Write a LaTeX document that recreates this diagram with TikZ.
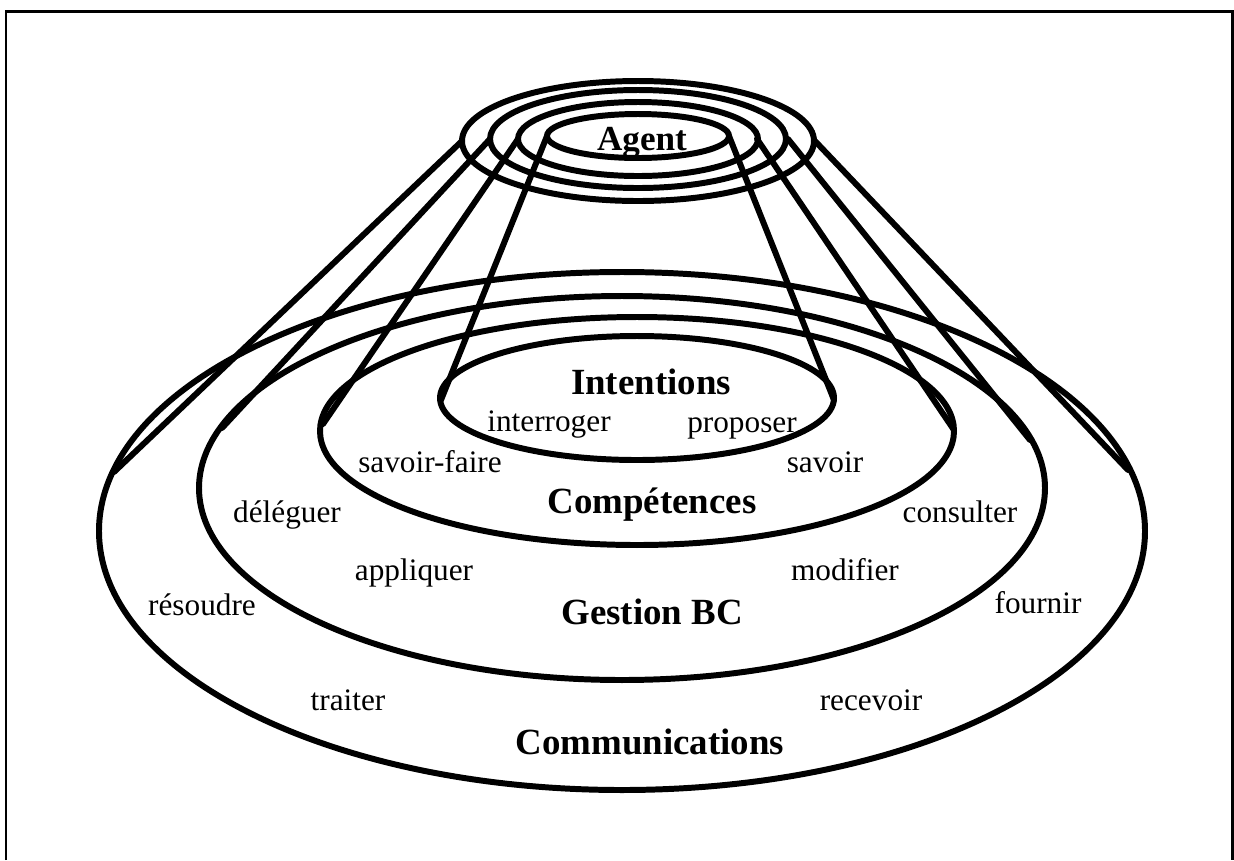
\documentclass[tikz,border=0pt]{standalone}
\usepackage{fontspec}
\setmainfont{Liberation Serif}

\begin{document}
\begin{tikzpicture}[x=0.02cm,y=-0.02cm]
            \useasboundingbox (0,0) rectangle (1234,860);
            \draw [line width=1.7pt] (6,860) -- (6,11) -- (1232,11) -- (1232,860);

            \begin{scope}[line width=3.4pt]
                % rings of the agent
                \draw (638,141) ellipse [x radius=176, y radius=60];
                \draw (638,139) ellipse [x radius=148, y radius=49];
                \draw (638,139) ellipse [x radius=120, y radius=37];
                \draw (638,136) ellipse [x radius=91, y radius=22];
                % layers
                \draw (622,531) ellipse [x radius=523, y radius=259];
                \draw (622,488) ellipse [x radius=423, y radius=192];
                \draw (637,431) ellipse [x radius=317, y radius=114];
                \draw (637,398) ellipse [x radius=197, y radius=62];
            \end{scope}

            \coordinate (commTopL) at (462,141);
            \coordinate (commTopR) at (815,141);
            \coordinate (commBotL) at (114,472);
            \coordinate (commBotR) at (1128,470);
            \coordinate (gestTopL) at (490,139);
            \coordinate (gestTopR) at (788,139);
            \coordinate (gestBotL) at (222,428);
            \coordinate (gestBotR) at (1030,440);
            \coordinate (compTopL) at (518,139);
            \coordinate (compTopR) at (757,139);
            \coordinate (compBotL) at (323,424);
            \coordinate (compBotR) at (954,430);
            \coordinate (intTopL) at (547,136);
            \coordinate (intTopR) at (729,136);
            \coordinate (intBotL) at (441,400);
            \coordinate (intBotR) at (834,400);

            \begin{scope}[every edge/.style={draw=black,line width=3.4pt,line cap=round}]
                \path [-] (commTopL) edge (commBotL);
                \path [-] (commTopR) edge (commBotR);
                \path [-] (gestTopL) edge (gestBotL);
                \path [-] (gestTopR) edge (gestBotR);
                \path [-] (compTopL) edge (compBotL);
                \path [-] (compTopR) edge (compBotR);
                \path [-] (intTopL) edge (intBotL);
                \path [-] (intTopR) edge (intBotR);
            \end{scope}

            \begin{scope}[every node/.style={anchor=base,inner sep=0pt,font=\bfseries\fontsize{21}{21}\selectfont}]
                \node (agent) at (642,150) {\fontsize{20}{20}\selectfont Agent};
                \node (intentions) at (651,394) {Intentions};
                \node (competences) at (652,513) {Compétences};
                \node (gestion) at (652,624) {Gestion BC};
                \node (communications) at (650,754) {Communications};
            \end{scope}

            \begin{scope}[every node/.style={anchor=base,inner sep=0pt,font=\fontsize{17.8}{18}\selectfont}]
                \node (interroger) at (549,431) {interroger};
                \node (proposer) at (742,432) {proposer};
                \node (savoirfaire) at (430,472) {savoir-faire};
                \node (savoir) at (825,472) {savoir};
                \node (deleguer) at (287,522) {déléguer};
                \node (consulter) at (960,522) {consulter};
                \node (appliquer) at (414,580) {appliquer};
                \node (modifier) at (845,580) {modifier};
                \node (resoudre) at (202,615) {résoudre};
                \node (fournir) at (1038,613) {fournir};
                \node (traiter) at (348,710) {traiter};
                \node (recevoir) at (871,710) {recevoir};
            \end{scope}
\end{tikzpicture}
\end{document}
